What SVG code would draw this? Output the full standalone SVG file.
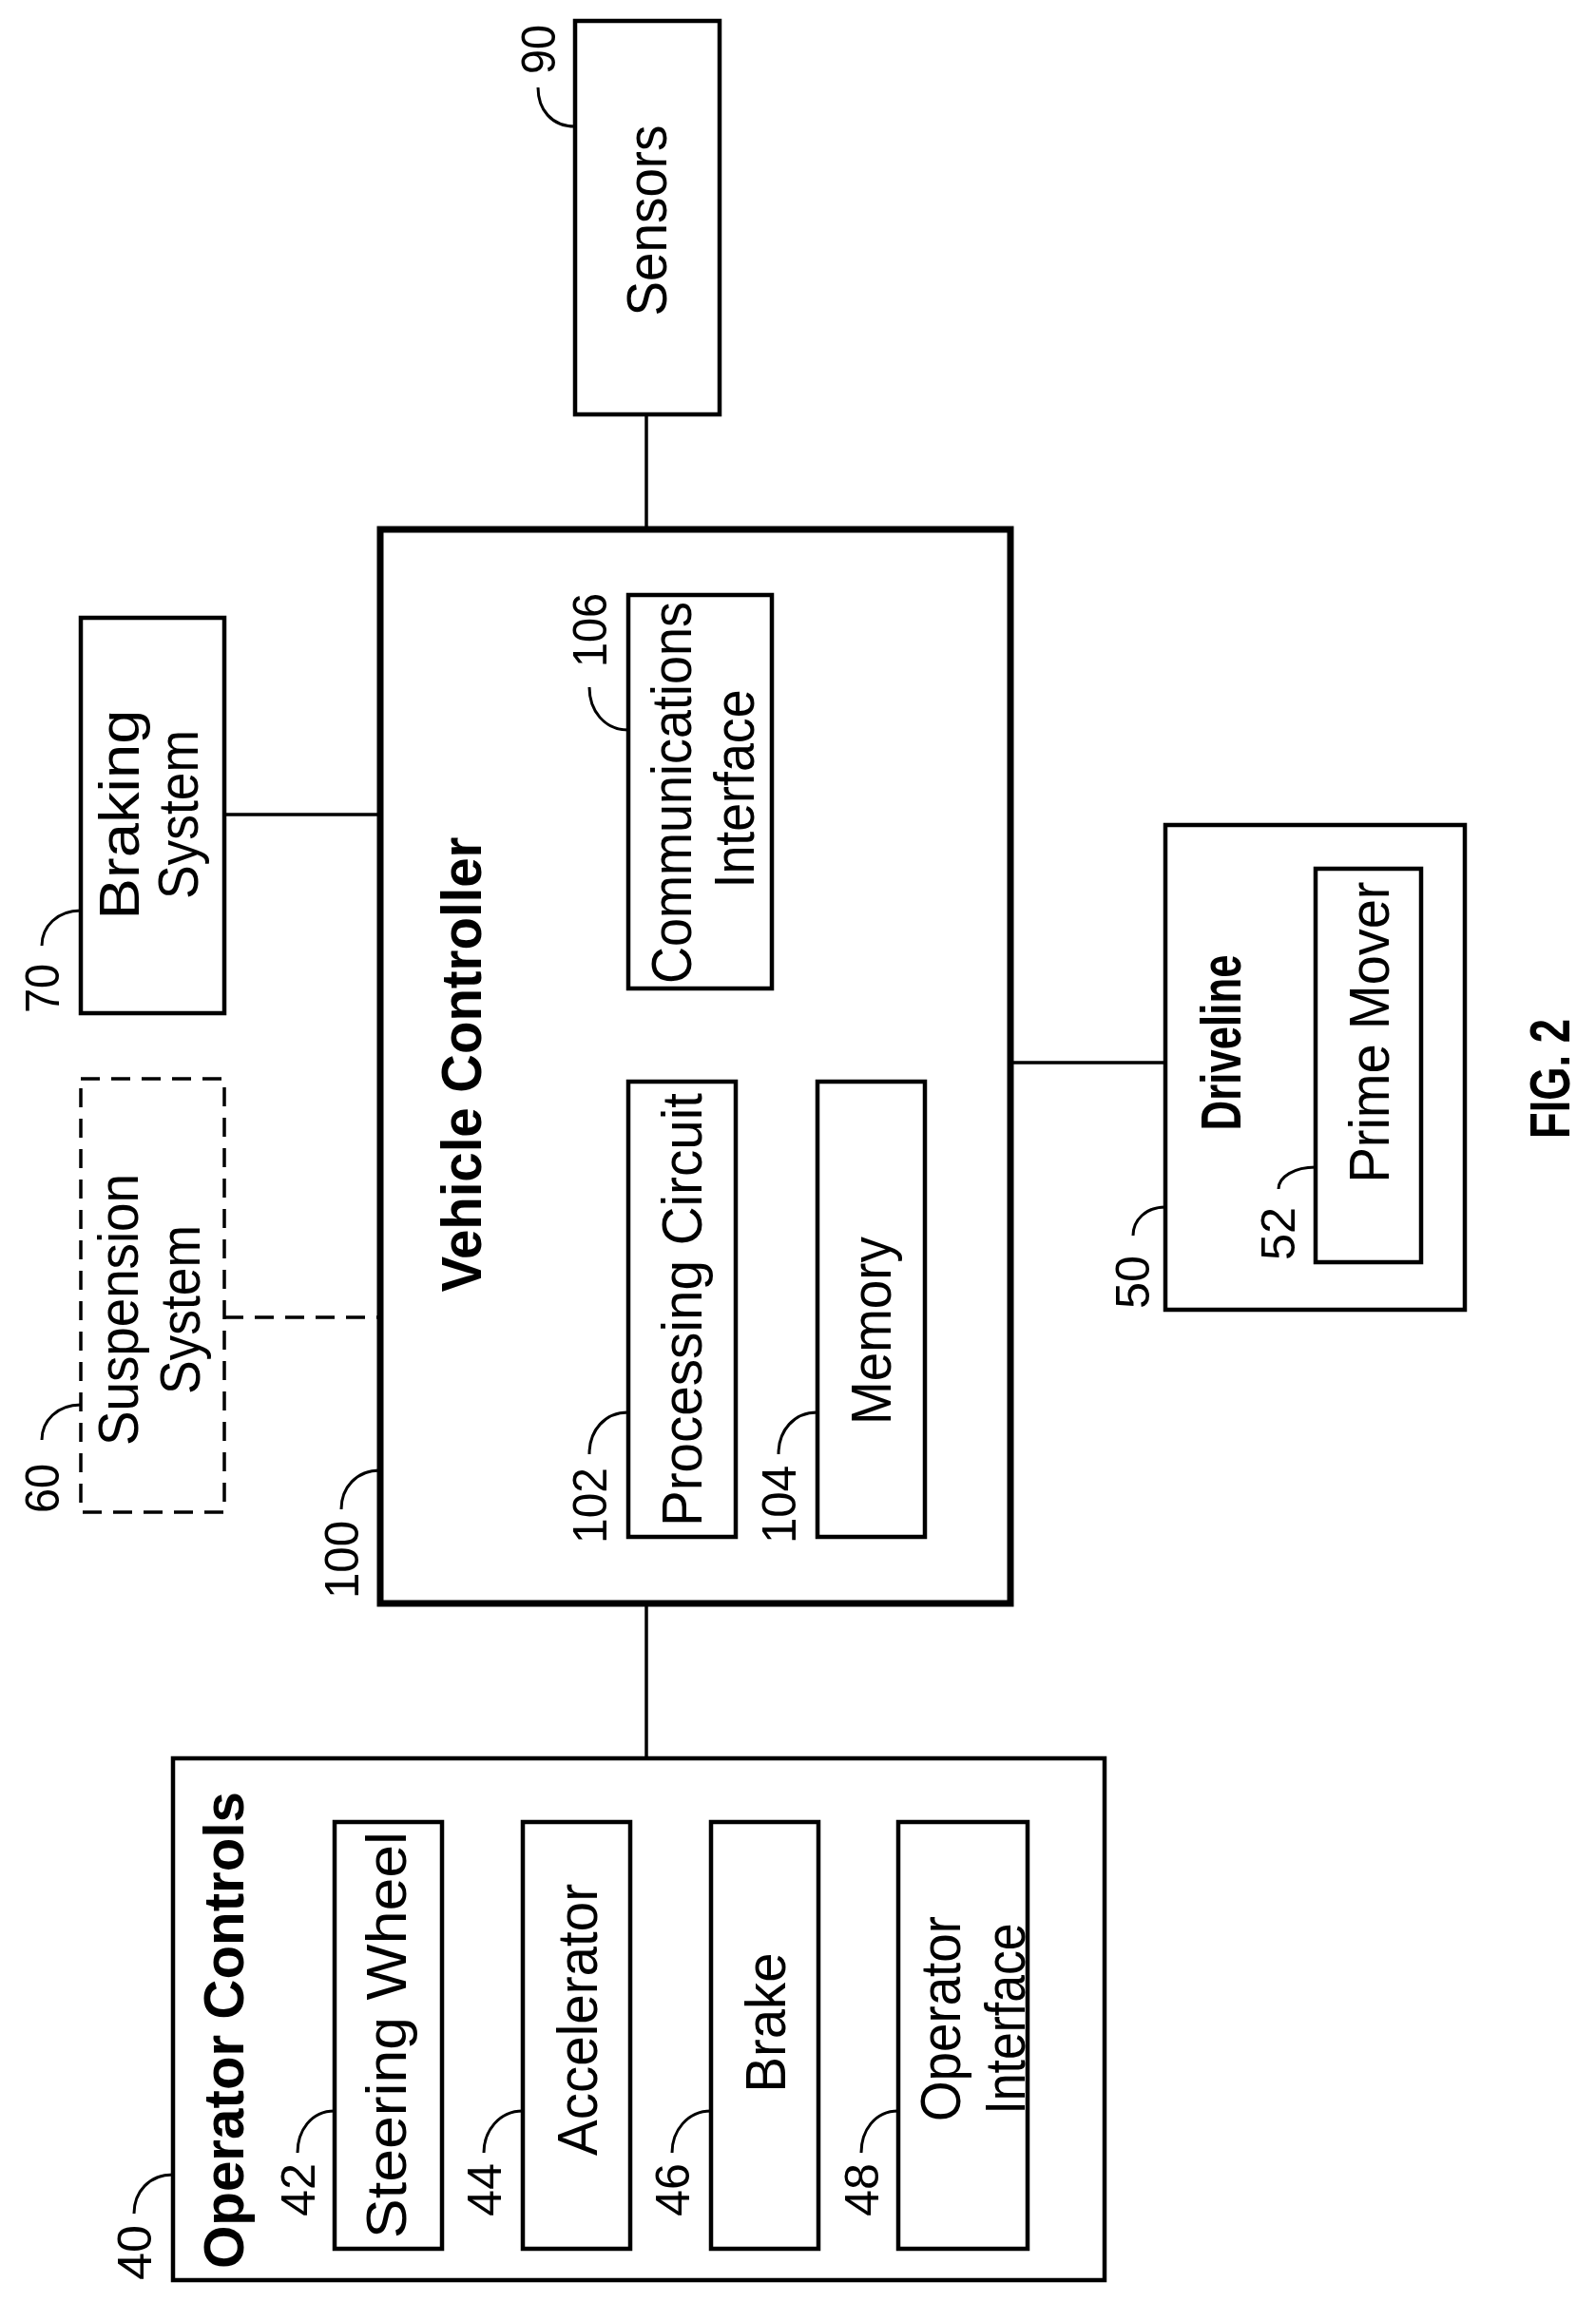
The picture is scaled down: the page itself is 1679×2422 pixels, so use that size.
<svg xmlns="http://www.w3.org/2000/svg" width="1679" height="2422" viewBox="0 0 1679 2422">
<style>
.b{fill:none;stroke:#000;stroke-width:4.5}
.vc{fill:none;stroke:#000;stroke-width:7}
.d{fill:none;stroke:#000;stroke-width:3.5;stroke-dasharray:20 12}
.c{fill:none;stroke:#000;stroke-width:3.5}
.ld{fill:none;stroke:#000;stroke-width:3}
text{font-family:"Liberation Sans",Arial,sans-serif;text-anchor:middle;fill:#000}
.t{font-size:60px}
.bt{font-size:60px;font-weight:bold}
.n{font-size:50px}
</style>
<g id="connectors">
<line class="c" x1="680" y1="436" x2="680" y2="556"/>
<line class="c" x1="236" y1="857" x2="400" y2="857"/>
<line class="d" x1="236" y1="1386" x2="400" y2="1386"/>
<line class="c" x1="1063" y1="1118" x2="1226" y2="1118"/>
<line class="c" x1="680" y1="1687" x2="680" y2="1849"/>
</g>
<g id="sensors">
<rect class="b" x="605" y="22" width="152" height="414"/>
<text class="t" transform="translate(680,232) rotate(-90)" dy="0.35em" textLength="201" lengthAdjust="spacingAndGlyphs">Sensors</text>
<path class="ld" d="M605,133 C580,133 566,115 566,92"/>
<text class="n" transform="translate(566,52) rotate(-90)" dy="0.35em" textLength="52" lengthAdjust="spacingAndGlyphs">90</text>
</g>
<g id="braking">
<rect class="b" x="85" y="650" width="151" height="416"/>
<text class="t" transform="translate(125,857) rotate(-90)" dy="0.35em" textLength="221" lengthAdjust="spacingAndGlyphs">Braking</text>
<text class="t" transform="translate(187,857) rotate(-90)" dy="0.35em" textLength="178" lengthAdjust="spacingAndGlyphs">System</text>
<path class="ld" d="M85,958 C60,958 44,975 44,995"/>
<text class="n" transform="translate(44,1040) rotate(-90)" dy="0.35em" textLength="52" lengthAdjust="spacingAndGlyphs">70</text>
</g>
<g id="suspension">
<rect class="d" x="85" y="1135" width="151" height="456"/>
<text class="t" transform="translate(124,1378) rotate(-90)" dy="0.35em" textLength="286" lengthAdjust="spacingAndGlyphs">Suspension</text>
<text class="t" transform="translate(189,1378) rotate(-90)" dy="0.35em" textLength="178" lengthAdjust="spacingAndGlyphs">System</text>
<path class="ld" d="M85,1478 C60,1478 44,1495 44,1515"/>
<text class="n" transform="translate(44,1566) rotate(-90)" dy="0.35em" textLength="52" lengthAdjust="spacingAndGlyphs">60</text>
</g>
<g id="vehicle-controller">
<rect class="vc" x="400" y="557" width="663" height="1130"/>
<text class="bt" transform="translate(485,1120) rotate(-90)" dy="0.35em" textLength="479" lengthAdjust="spacingAndGlyphs">Vehicle Controller</text>
<path class="ld" d="M400,1547 C375,1547 359,1565 359,1588"/>
<text class="n" transform="translate(359,1641) rotate(-90)" dy="0.35em" textLength="82" lengthAdjust="spacingAndGlyphs">100</text>
</g>
<g id="comm-interface">
<rect class="b" x="661" y="626" width="151" height="414"/>
<text class="t" transform="translate(706,834) rotate(-90)" dy="0.35em" textLength="402" lengthAdjust="spacingAndGlyphs">Communications</text>
<text class="t" transform="translate(772,830) rotate(-90)" dy="0.35em" textLength="209" lengthAdjust="spacingAndGlyphs">Interface</text>
<path class="ld" d="M661,768 C636,768 620,748 620,723"/>
<text class="n" transform="translate(620,663) rotate(-90)" dy="0.35em" textLength="78" lengthAdjust="spacingAndGlyphs">106</text>
</g>
<g id="processing-circuit">
<rect class="b" x="661" y="1138" width="113" height="479"/>
<text class="t" transform="translate(717,1378) rotate(-90)" dy="0.35em" textLength="456" lengthAdjust="spacingAndGlyphs">Processing Circuit</text>
<path class="ld" d="M661,1486 C636,1486 620,1505 620,1530"/>
<text class="n" transform="translate(620,1584) rotate(-90)" dy="0.35em" textLength="80" lengthAdjust="spacingAndGlyphs">102</text>
</g>
<g id="memory">
<rect class="b" x="860" y="1138" width="113" height="479"/>
<text class="t" transform="translate(916,1400) rotate(-90)" dy="0.35em" textLength="198" lengthAdjust="spacingAndGlyphs">Memory</text>
<path class="ld" d="M860,1486 C835,1486 819,1505 819,1530"/>
<text class="n" transform="translate(819,1583) rotate(-90)" dy="0.35em" textLength="82" lengthAdjust="spacingAndGlyphs">104</text>
</g>
<g id="driveline">
<rect class="b" x="1226" y="868" width="315" height="510"/>
<text class="bt" transform="translate(1284,1097) rotate(-90)" dy="0.35em" textLength="185" lengthAdjust="spacingAndGlyphs">Driveline</text>
<path class="ld" d="M1226,1270 C1205,1270 1192,1284 1192,1300"/>
<text class="n" transform="translate(1191,1349) rotate(-90)" dy="0.35em" textLength="56" lengthAdjust="spacingAndGlyphs">50</text>
</g>
<g id="prime-mover">
<rect class="b" x="1384" y="914" width="111" height="414"/>
<text class="t" transform="translate(1440,1086) rotate(-90)" dy="0.35em" textLength="317" lengthAdjust="spacingAndGlyphs">Prime Mover</text>
<path class="ld" d="M1384,1228 C1362,1228 1345,1238 1345,1251"/>
<text class="n" transform="translate(1344,1298) rotate(-90)" dy="0.35em" textLength="56" lengthAdjust="spacingAndGlyphs">52</text>
</g>
<g id="operator-controls">
<rect class="b" x="182" y="1850" width="980" height="549"/>
<text class="bt" transform="translate(235,2136) rotate(-90)" dy="0.35em" textLength="502" lengthAdjust="spacingAndGlyphs">Operator Controls</text>
<path class="ld" d="M182,2288 C157,2288 141,2306 141,2329"/>
<text class="n" transform="translate(141,2370) rotate(-90)" dy="0.35em" textLength="58" lengthAdjust="spacingAndGlyphs">40</text>
</g>
<g id="steering-wheel">
<rect class="b" x="352" y="1917" width="113" height="449"/>
<text class="t" transform="translate(406,2141) rotate(-90)" dy="0.35em" textLength="428" lengthAdjust="spacingAndGlyphs">Steering Wheel</text>
<path class="ld" d="M352,2221 C327,2221 313,2242 313,2265"/>
<text class="n" transform="translate(313,2304) rotate(-90)" dy="0.35em" textLength="56" lengthAdjust="spacingAndGlyphs">42</text>
</g>
<g id="accelerator">
<rect class="b" x="550" y="1917" width="113" height="449"/>
<text class="t" transform="translate(607,2125) rotate(-90)" dy="0.35em" textLength="286" lengthAdjust="spacingAndGlyphs">Accelerator</text>
<path class="ld" d="M550,2221 C525,2221 509,2242 509,2265"/>
<text class="n" transform="translate(509,2304) rotate(-90)" dy="0.35em" textLength="56" lengthAdjust="spacingAndGlyphs">44</text>
</g>
<g id="brake">
<rect class="b" x="748" y="1917" width="113" height="449"/>
<text class="t" transform="translate(805,2128) rotate(-90)" dy="0.35em" textLength="147" lengthAdjust="spacingAndGlyphs">Brake</text>
<path class="ld" d="M748,2221 C723,2221 707,2242 707,2265"/>
<text class="n" transform="translate(707,2304) rotate(-90)" dy="0.35em" textLength="56" lengthAdjust="spacingAndGlyphs">46</text>
</g>
<g id="operator-interface">
<rect class="b" x="945" y="1917" width="136" height="449"/>
<text class="t" transform="translate(989,2124) rotate(-90)" dy="0.35em" textLength="216" lengthAdjust="spacingAndGlyphs">Operator</text>
<text class="t" transform="translate(1057,2124) rotate(-90)" dy="0.35em" textLength="201" lengthAdjust="spacingAndGlyphs">Interface</text>
<path class="ld" d="M945,2221 C920,2221 906,2242 906,2265"/>
<text class="n" transform="translate(906,2304) rotate(-90)" dy="0.35em" textLength="56" lengthAdjust="spacingAndGlyphs">48</text>
</g>
<g id="fig-label">
<text class="bt" transform="translate(1630,1135) rotate(-90)" dy="0.35em" font-size="66" textLength="126" lengthAdjust="spacingAndGlyphs">FIG. 2</text>
</g>
</svg>
